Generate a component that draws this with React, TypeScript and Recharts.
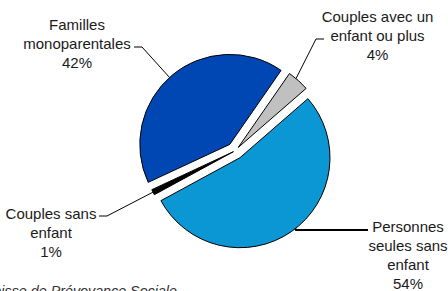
import React from 'react';
import { PieChart, Pie, Cell, Sector } from 'recharts';

const categories = [
  'Personnes seules sans enfant',
  'Couples sans enfant',
  'Familles monoparentales',
  'Couples avec un enfant ou plus',
];
const values = [54, 1, 42, 4];
const labelLines = [
  ['Personnes', 'seules sans', 'enfant'],
  ['Couples sans', 'enfant'],
  ['Familles', 'monoparentales'],
  ['Couples avec un', 'enfant ou plus'],
];
const sourceText = 'Source : Caisse de Prévoyance Sociale';

const colors = ['#0B96D4', '#000000', '#0047B4', '#C0C0C0'];
const explode = [8.4, 2, 8.4, 4.5];

// label layout: text center x, first baseline y, leader: arc angle, elbow, end
const labelLayout = [
  { x: 408, y: 232, angle: -52, elbow: [296, 230], end: [368, 230], w: 2 },
  { x: 51, y: 218.5, angle: 206.7, elbow: [107, 216], end: [99, 216], w: 1 },
  { x: 77, y: 29.5, angle: 132, elbow: [142, 47], end: [134, 47], w: 1 },
  { x: 377.5, y: 22, angle: 50, elbow: [316, 39], end: [324, 39], w: 1 },
];

const data = categories.map((name, i) => ({ name, value: values[i] }));
const RAD = Math.PI / 180;
const FONT = '"Liberation Sans", Arial, sans-serif';

const renderSlice = (props: any) => {
  const { cx, cy, midAngle, outerRadius, startAngle, endAngle, index } = props;
  const d = explode[index];
  const ox = cx + d * Math.cos(-midAngle * RAD);
  const oy = cy + d * Math.sin(-midAngle * RAD);
  const lay = labelLayout[index];
  const ax = ox + outerRadius * Math.cos(-lay.angle * RAD);
  const ay = oy + outerRadius * Math.sin(-lay.angle * RAD);
  const lines = [...labelLines[index], `${values[index]}%`];
  return (
    <g key={`s-${index}`}>
      <Sector
        cx={ox}
        cy={oy}
        innerRadius={0}
        outerRadius={outerRadius}
        startAngle={startAngle}
        endAngle={endAngle}
        fill={colors[index]}
        stroke="#000"
        strokeWidth={1}
      />
      <polyline
        points={`${ax},${ay} ${lay.elbow[0]},${lay.elbow[1]} ${lay.end[0]},${lay.end[1]}`}
        fill="none"
        stroke="#000"
        strokeWidth={lay.w}
      />
      <text
        x={lay.x}
        y={lay.y}
        textAnchor="middle"
        fontFamily={FONT}
        fontSize={15}
        fill="#1a1a1a"
      >
        {lines.map((l, i) => (
          <tspan key={i} x={lay.x} dy={i === 0 ? 0 : 19.1}>
            {l}
          </tspan>
        ))}
      </text>
    </g>
  );
};

export default function App() {
  return (
    <div style={{ position: 'absolute', left: 0, top: 0, width: 448, height: 291, background: '#fff' }}>
      <PieChart width={448} height={291} margin={{ top: 0, right: 0, bottom: 0, left: 0 }}>
        <Pie
          data={data}
          dataKey="value"
          nameKey="name"
          cx={235.2}
          cy={150.8}
          innerRadius={0}
          outerRadius={90}
          startAngle={41}
          endAngle={-319}
          stroke="none"
          fill="none"
          isAnimationActive={false}
          labelLine={false}
          label={renderSlice}
        >
          {data.map((_, i) => (
            <Cell key={i} fill="transparent" stroke="none" />
          ))}
        </Pie>
        <text
          x={177}
          y={296}
          textAnchor="end"
          fontFamily={FONT}
          fontStyle="italic"
          fontSize={14.3}
          fill="#333"
        >
          {sourceText}
        </text>
      </PieChart>
    </div>
  );
}
